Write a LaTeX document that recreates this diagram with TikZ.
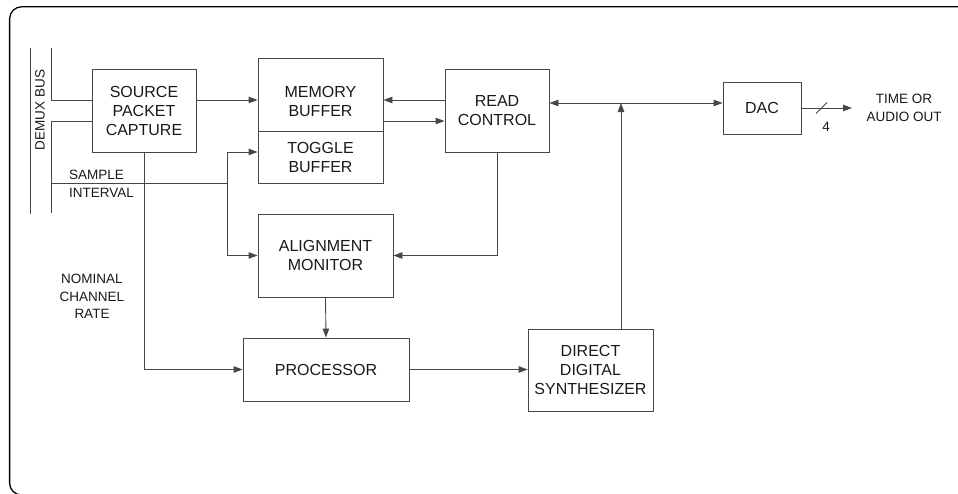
\documentclass[tikz,border=0pt]{standalone}
\usepackage{fontspec}
\setmainfont{Liberation Sans}
\usetikzlibrary{arrows.meta}
\newcommand\boxfont{\fontsize{16}{19}\selectfont}
\newcommand\lblfont{\fontsize{13.5}{17.5}\selectfont}
\definecolor{linec}{gray}{0.28}
\definecolor{txtc}{gray}{0.1}
\begin{document}
\begin{tikzpicture}[x=1pt,y=-1pt,
  box/.style={draw=linec,line width=0.9pt,inner sep=0pt,align=center,font=\boxfont,text=txtc},
  lbl/.style={inner sep=0pt,align=center,font=\lblfont,text=txtc},
  wire/.style={draw=linec,line width=0.9pt},
  arr/.style={wire,-{Triangle[length=9pt,width=6.5pt]}},
  darr/.style={wire,{Triangle[length=9pt,width=6.5pt]}-{Triangle[length=9pt,width=6.5pt]}}]
\useasboundingbox (0,0) rectangle (958,493);
% frame
\begin{scope}
\clip (0,0) rectangle (958,493);
\draw[black,line width=1.3pt,rounded corners=12pt] (975,6.8) -- (9.6,6.8) -- (9.6,495) -- (80,495);
\end{scope}
% boxes
\node[box,minimum width=104pt,minimum height=83pt] (src) at (144,110.5) {SOURCE\\PACKET\\CAPTURE};
\node[box,minimum width=125pt,minimum height=73pt] (mem) at (320.5,94.5) {};
\node[lbl,font=\boxfont] (memtxt) at (320.5,101.5) {MEMORY\\BUFFER};
\node[box,minimum width=125pt,minimum height=52pt] (tog) at (320.5,157) {TOGGLE\\BUFFER};
\node[box,minimum width=104pt,minimum height=83pt] (read) at (497,110.5) {READ\\CONTROL};
\node[box,minimum width=135pt,minimum height=83pt] (align) at (325.5,255.5) {ALIGNMENT\\MONITOR};
\node[box,minimum width=166pt,minimum height=63pt] (proc) at (326,369.5) {PROCESSOR};
\node[box,minimum width=125pt,minimum height=82pt] (dds) at (590.5,370) {DIRECT\\DIGITAL\\SYNTHESIZER};
\node[box,minimum width=78pt,minimum height=52pt] (dac) at (762,108) {DAC};
% labels
\node[lbl,rotate=90] (demux) at (40,110) {DEMUX BUS};
\node[lbl,align=left,anchor=west] (sample) at (69,184) {SAMPLE\\INTERVAL};
\node[lbl] (nominal) at (92,296.5) {NOMINAL\\CHANNEL\\RATE};
\node[lbl] (timeout) at (904,108) {TIME OR\\AUDIO OUT};
\node[lbl] (four) at (826,127) {4};
% coordinates
\coordinate (r1) at (0,100);
\coordinate (r2) at (0,121);
\coordinate (b1top) at (30,48);
\coordinate (b1bot) at (30,214);
\coordinate (b2top) at (51,48);
\coordinate (b2bot) at (51,213);
\coordinate (si) at (51,183);
\coordinate (sj) at (227,183);
\coordinate (j) at (621,103);
\coordinate (outend) at (852,108);
\coordinate (sl1) at (816,113.5);
\coordinate (sl2) at (827,102.5);
% bus
\draw[wire] (b1top) -- (b1bot);
\draw[wire] (b2top) |- (src.west |- r1);
\draw[wire] (src.west |- r2) -| (b2bot);
% connectors
\draw[arr] (src.east |- r1) -- (mem.west |- r1);
\draw[arr] (read.west |- r1) -- (mem.east |- r1);
\draw[arr] (mem.east |- r2) -- (read.west |- r2);
\draw[wire] (si) -- (sj);
\draw[arr] (sj) |- ([yshift=5pt]tog.west);
\draw[arr] (sj) |- (align.west);
\draw[arr] (read.south) |- (align.east);
\draw[arr] (align.south) -- (proc.north);
\draw[arr] (src.south) |- (proc.west);
\draw[arr] (proc.east) -- (dds.west |- proc.east);
\draw[arr] (dds.north -| j) -- (j);
\draw[darr] (read.east |- j) -- (dac.west |- j);
\draw[arr] (dac.east) -- (outend);
\draw[wire] (sl1) -- (sl2);
\end{tikzpicture}
\end{document}
